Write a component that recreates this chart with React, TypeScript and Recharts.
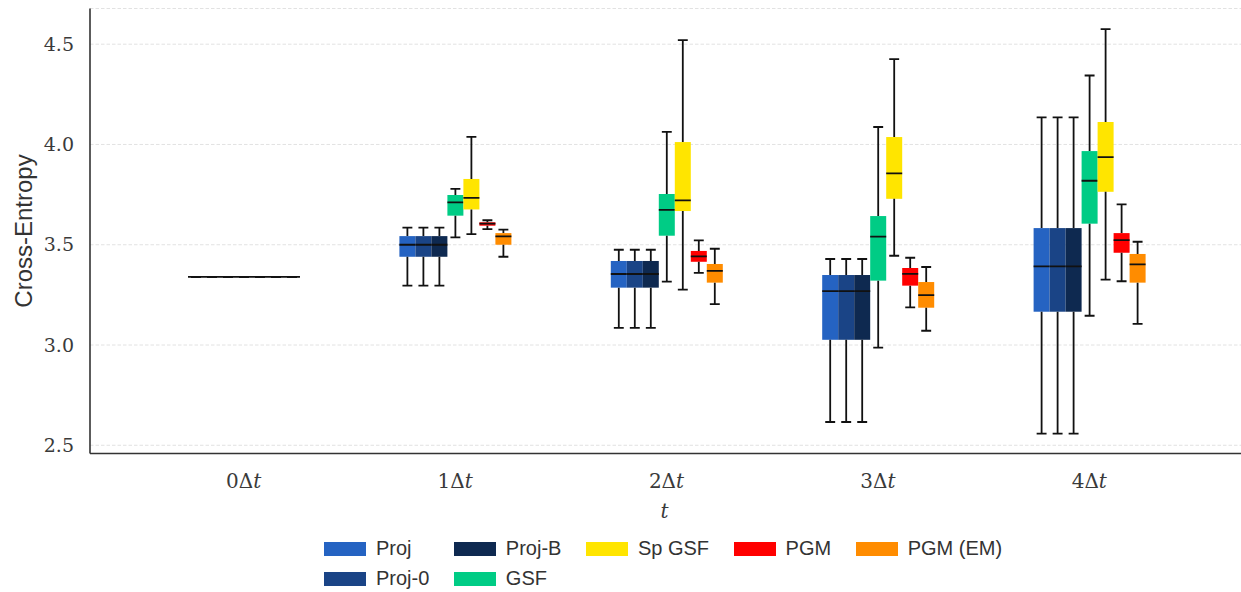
import React from "react";
import { ComposedChart, Bar, XAxis, YAxis, CartesianGrid, Legend } from "recharts";

const steps = ["0Δt", "1Δt", "2Δt", "3Δt", "4Δt"];
const yTicks = [2.5, 3.0, 3.5, 4.0, 4.5];

// each entry: [min, q1, median, q3, max]
const proj = [
  [3.34, 3.34, 3.34, 3.34, 3.34],
  [3.296, 3.44, 3.5, 3.543, 3.585],
  [3.085, 3.286, 3.354, 3.419, 3.475],
  [2.616, 3.026, 3.269, 3.349, 3.429],
  [2.558, 3.166, 3.392, 3.583, 4.135],
];
const proj0 = [
  [3.34, 3.34, 3.34, 3.34, 3.34],
  [3.296, 3.44, 3.5, 3.543, 3.585],
  [3.085, 3.286, 3.354, 3.419, 3.475],
  [2.616, 3.026, 3.269, 3.349, 3.429],
  [2.558, 3.166, 3.392, 3.583, 4.135],
];
const projB = [
  [3.34, 3.34, 3.34, 3.34, 3.34],
  [3.296, 3.44, 3.5, 3.543, 3.585],
  [3.085, 3.286, 3.354, 3.419, 3.475],
  [2.616, 3.026, 3.269, 3.349, 3.429],
  [2.558, 3.166, 3.392, 3.583, 4.135],
];
const gsf = [
  [3.34, 3.34, 3.34, 3.34, 3.34],
  [3.537, 3.645, 3.711, 3.748, 3.779],
  [3.316, 3.545, 3.674, 3.753, 4.063],
  [2.987, 3.321, 3.54, 3.643, 4.087],
  [3.146, 3.605, 3.819, 3.967, 4.344],
];
const spGsf = [
  [3.34, 3.34, 3.34, 3.34, 3.34],
  [3.553, 3.676, 3.734, 3.828, 4.038],
  [3.276, 3.668, 3.721, 4.012, 4.52],
  [3.445, 3.729, 3.856, 4.037, 4.426],
  [3.326, 3.764, 3.937, 4.112, 4.575],
];
const pgm = [
  [3.34, 3.34, 3.34, 3.34, 3.34],
  [3.578, 3.595, 3.605, 3.612, 3.622],
  [3.36, 3.415, 3.442, 3.469, 3.522],
  [3.188, 3.296, 3.355, 3.384, 3.435],
  [3.318, 3.46, 3.523, 3.558, 3.701],
];
const pgmEm = [
  [3.34, 3.34, 3.34, 3.34, 3.34],
  [3.44, 3.5, 3.542, 3.558, 3.575],
  [3.204, 3.311, 3.37, 3.404, 3.48],
  [3.071, 3.186, 3.249, 3.314, 3.389],
  [3.105, 3.311, 3.402, 3.454, 3.515],
];

const series = [
  { key: "proj", name: "Proj", color: "#2563c2", values: proj },
  { key: "proj0", name: "Proj-0", color: "#1a4486", values: proj0 },
  { key: "projB", name: "Proj-B", color: "#0e2950", values: projB },
  { key: "gsf", name: "GSF", color: "#00cc85", values: gsf },
  { key: "spGsf", name: "Sp GSF", color: "#ffe500", values: spGsf },
  { key: "pgm", name: "PGM", color: "#ff0000", values: pgm },
  { key: "pgmEm", name: "PGM (EM)", color: "#ff8c00", values: pgmEm },
];

const data = steps.map((step, i) => {
  const row: Record<string, any> = { step };
  series.forEach((s) => {
    row[s.key] = s.values[i];
  });
  return row;
});

const SERIF = "'DejaVu Serif', serif";
const SANS = "'Liberation Sans', Arial, sans-serif";
const FRAME = "#333";
const INK = "#111";

// the bar spans min..max; quartiles and median are placed inside that span
function boxShape(key: string, color: string) {
  return (props: any) => {
    const { x, y, width, height, payload } = props;
    const [lo, q1, med, q3, hi] = payload[key] as number[];
    const span = hi - lo;
    const py = (v: number) => (span > 0 ? y + (height * (hi - v)) / span : y);
    const cx = x + width / 2;
    const cap = width * 0.31;
    return (
      <g>
        <rect x={x} y={py(q3)} width={width} height={py(q1) - py(q3)} fill={color} />
        <line x1={cx} x2={cx} y1={py(hi)} y2={py(q3)} stroke={INK} strokeWidth={1.8} />
        <line x1={cx} x2={cx} y1={py(q1)} y2={py(lo)} stroke={INK} strokeWidth={1.8} />
        <line x1={cx - cap} x2={cx + cap} y1={py(hi)} y2={py(hi)} stroke={INK} strokeWidth={1.8} />
        <line x1={cx - cap} x2={cx + cap} y1={py(lo)} y2={py(lo)} stroke={INK} strokeWidth={1.8} />
        <line x1={x} x2={x + width} y1={py(med)} y2={py(med)} stroke={INK} strokeWidth={1.8} />
      </g>
    );
  };
}

function StepTick({ x, y, payload }: any) {
  const label: string = payload.value;
  return (
    <text x={x} y={y + 32} textAnchor="middle" fontFamily={SERIF} fontSize={20} fill="#3a3a3a">
      <tspan>{label.slice(0, -1)}</tspan>
      <tspan fontStyle="italic">{label.slice(-1)}</tspan>
    </text>
  );
}

// legend filled column by column, five columns over two rows
function renderLegend() {
  return (
    <div
      style={{
        display: "grid",
        gridTemplateColumns: "repeat(5, auto)",
        gridTemplateRows: "30px 30px",
        columnGap: 24.5,
        justifyContent: "start",
        fontFamily: SANS,
        fontSize: 20,
        color: "#333",
      }}
    >
      {series.map((s, i) => {
        const col = i < 4 ? Math.floor(i / 2) + 1 : i - 1;
        const row = i < 4 ? (i % 2) + 1 : 1;
        return (
          <div key={s.key} style={{ display: "flex", alignItems: "center", gridColumn: col, gridRow: row }}>
            <span style={{ display: "inline-block", width: 42, height: 14, background: s.color, marginRight: 10 }} />
            <span>{s.name}</span>
          </div>
        );
      })}
    </div>
  );
}

export default function App() {
  return (
    <div style={{ position: "absolute", left: 0, top: 0, width: 1241, height: 592, overflow: "hidden", background: "#fff" }}>
      <ComposedChart
        width={1250}
        height={592}
        data={data}
        barGap={0}
        barSize={16}
        margin={{ top: 8.5, right: 7, bottom: 68.5, left: 0 }}
      >
        <CartesianGrid vertical={false} stroke="#dadada" strokeWidth={0.8} strokeDasharray="3.5 2" />
        <XAxis
          xAxisId="top"
          orientation="top"
          dataKey="step"
          height={0}
          tick={false}
          tickLine={false}
          axisLine={{ stroke: FRAME, strokeWidth: 1.6 }}
          padding={{ left: 48, right: 48 }}
        />
        <XAxis
          dataKey="step"
          height={70}
          tick={<StepTick />}
          tickLine={false}
          tickSize={0}
          axisLine={{ stroke: FRAME, strokeWidth: 1.6 }}
          padding={{ left: 48, right: 48 }}
          interval={0}
          label={{
            content: ({ viewBox }: any) => (
              <text
                x={viewBox.x + viewBox.width / 2 - 2}
                y={viewBox.y + 64}
                textAnchor="middle"
                fontFamily={SERIF}
                fontStyle="italic"
                fontSize={20}
                fill="#3a3a3a"
              >
                t
              </text>
            ),
          }}
        />
        <YAxis
          width={90}
          domain={[2.459, 4.678]}
          allowDataOverflow
          ticks={yTicks}
          tickFormatter={(v: number) => v.toFixed(1)}
          tick={{ fontFamily: SERIF, fontSize: 19, fill: "#3a3a3a" }}
          tickLine={false}
          tickSize={0}
          tickMargin={16}
          axisLine={{ stroke: FRAME, strokeWidth: 1.6 }}
          label={{
            content: ({ viewBox }: any) => {
              const cx = 23;
              const cy = viewBox.y + viewBox.height / 2;
              return (
                <text
                  x={cx}
                  y={cy}
                  transform={`rotate(-90, ${cx}, ${cy})`}
                  textAnchor="middle"
                  dominantBaseline="central"
                  fontFamily={SANS}
                  fontSize={24}
                  fill="#333"
                >
                  Cross-Entropy
                </text>
              );
            },
          }}
        />
        <Legend
          layout="horizontal"
          verticalAlign="middle"
          align="center"
          content={renderLegend}
          wrapperStyle={{ left: 324, top: 533.7, width: 760 }}
        />
        {series.map((s) => (
          <Bar
            key={s.key}
            name={s.name}
            dataKey={(row: any) => [row[s.key][0], row[s.key][4]]}
            fill={s.color}
            shape={boxShape(s.key, s.color)}
            isAnimationActive={false}
          />
        ))}
      </ComposedChart>
    </div>
  );
}
